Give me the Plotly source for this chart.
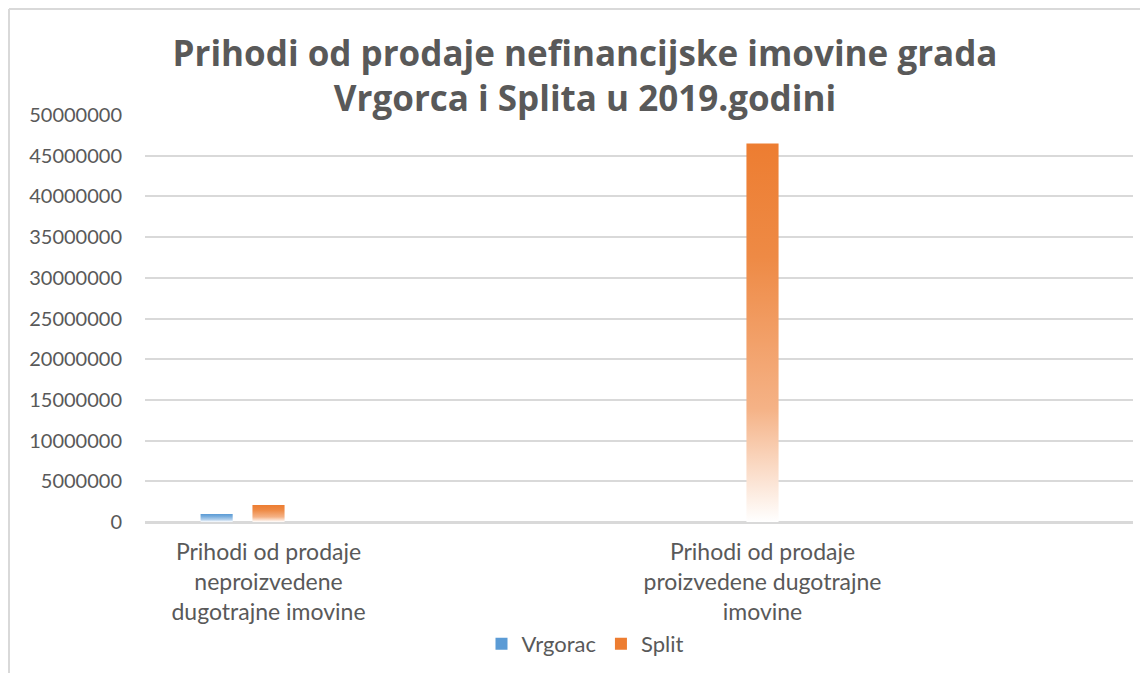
import plotly.graph_objects as go

# page body has an 8px margin, so the figure is 8px smaller than the window
W, H = 1140, 665

# data
categories = [
    "Prihodi od prodaje<br>neproizvedene<br>dugotrajne imovine",
    "",
    "Prihodi od prodaje<br>proizvedene dugotrajne<br>imovine",
    "",
]
series_names = ["Vrgorac", "Split"]
vrgorac = [980000, 0, 60000, 0]
split = [2090000, 0, 46500000, 0]
y_ticks = [0, 5000000, 10000000, 15000000, 20000000, 25000000,
           30000000, 35000000, 40000000, 45000000, 50000000]

colors = {"Vrgorac": "#5B9BD5", "Split": "#ED7D31"}
scales = {
    "Vrgorac": [[0, "#FFFFFF"], [0.3, "#B3D0EC"], [0.7, "#78ADDD"], [1, "#5B9BD5"]],
    "Split": [[0, "#FFFFFF"], [0.3, "#F5B286"], [0.7, "#EE8A45"], [1, "#ED7D31"]],
}
offsets = {"Vrgorac": -0.21, "Split": 0.0}
bar_w = 0.13

# plot area in pixels
L, R, T, B = 137, 15, 107, 151

font_main = "Lato, 'Open Sans', sans-serif"
grey = "#595959"

fig = go.Figure()
for name, vals in zip(series_names, [vrgorac, split]):
    for i, v in enumerate(vals):
        if v <= 0:
            continue
        c = i + offsets[name]
        x0, x1 = c - bar_w / 2, c + bar_w / 2
        fig.add_trace(go.Scatter(
            x=[x0, x1, x1, x0, x0], y=[0, 0, v, v, 0],
            mode="lines", fill="toself",
            line=dict(width=0, color=colors[name]),
            fillcolor=colors[name],
            fillgradient=dict(type="vertical", colorscale=scales[name], start=0, stop=v),
            name=name, legendgroup=name, showlegend=False,
            hoverinfo="skip",
        ))
    # legend entry with a square swatch
    fig.add_trace(go.Bar(x=[None], y=[None], name=name, legendgroup=name,
                         marker=dict(color=colors[name], line=dict(width=0))))

fig.update_layout(
    width=W, height=H,
    margin=dict(l=L, r=R, t=T, b=B),
    paper_bgcolor="white", plot_bgcolor="white",
    font=dict(family=font_main, color=grey, size=20),
    title=dict(
        text="Prihodi od prodaje nefinancijske imovine grada<br>Vrgorca i Splita u 2019.godini",
        x=577 / W, xanchor="center", xref="container",
        y=1 - 57.5 / H, yanchor="middle", yref="container",
        font=dict(family="'Open Sans', sans-serif", size=35, color=grey, weight="bold"),
    ),
    showlegend=True,
    legend=dict(
        orientation="h", x=577 / W, xanchor="center", xref="container",
        y=1 - 636 / H, yanchor="middle", yref="container",
        font=dict(size=22, color=grey), itemwidth=30,
    ),
    xaxis=dict(
        range=[-0.5, 3.5], tickvals=list(range(len(categories))), ticktext=categories,
        showgrid=False, zeroline=False, showline=False, ticks="",
        tickfont=dict(size=23, color=grey), ticklabelstandoff=14, automargin=False,
    ),
    yaxis=dict(
        range=[0, 50000000], tickvals=y_ticks, ticktext=[str(t) for t in y_ticks],
        showgrid=True, gridcolor="#D9D9D9", gridwidth=1.5,
        zeroline=True, zerolinecolor="#D9D9D9", zerolinewidth=2.5,
        ticks="", tickfont=dict(size=20, color=grey), ticklabelstandoff=22,
        automargin=False,
    ),
)

# chart frame (top and left edges visible)
pw, ph = W - L - R, H - T - B
fx = (1 - L) / pw
fy = (H - B - 1) / ph
fig.add_shape(type="line", xref="paper", yref="paper", x0=fx, x1=(W - L) / pw + 0.05,
              y0=fy, y1=fy, line=dict(color="#D9D9D9", width=2))
fig.add_shape(type="line", xref="paper", yref="paper", x0=fx, x1=fx,
              y0=fy, y1=-B / ph - 0.05, line=dict(color="#D9D9D9", width=2))

fig.write_html("out.html")
